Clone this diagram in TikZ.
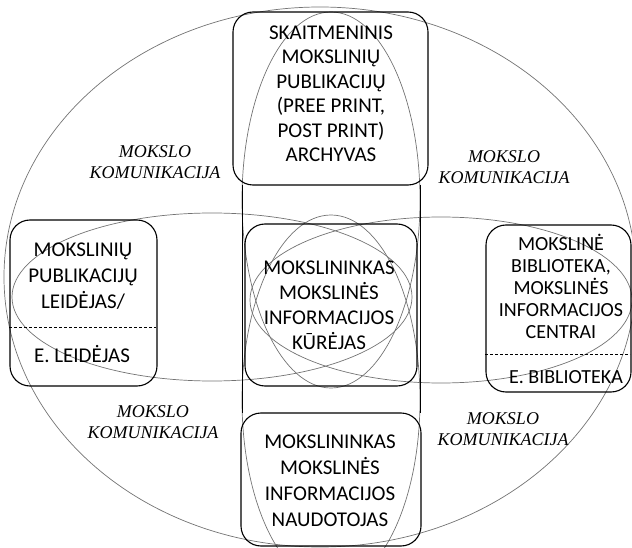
\documentclass[tikz,border=0pt]{standalone}
\usepackage{fontspec}
\setmainfont{Liberation Serif}
\setsansfont{Carlito}
\usepackage{tikz}

\begin{document}
\begin{tikzpicture}[x=1pt, y=-1pt,
  box/.style={draw,line width=1.1pt,rounded corners=20pt,inner sep=0pt},
  ring/.style={draw=black!55,line width=0.7pt},
  t/.style={align=center,inner sep=0pt,font=\sffamily\fontsize{21}{25}\selectfont},
  km/.style={align=center,inner sep=0pt,font=\itshape\fontsize{18}{21}\selectfont},
  dsh/.style={line width=0.8pt,dash pattern=on 3pt off 2pt}]
\path[use as bounding box] (0,0) rectangle (632,548);
\clip (0,0) rectangle (632,548);
% rings behind the boxes
\draw[ring] (320,277) ellipse [x radius=316pt, y radius=270pt];
\draw[ring] (212,297) ellipse [x radius=200pt, y radius=84pt];
\draw[ring] (441,300) ellipse [x radius=191pt, y radius=83pt];
\draw[ring] (331,200) ellipse [x radius=89pt, y radius=188pt];
\draw[ring] (331,400) ellipse [x radius=89pt, y radius=185pt];
\draw[line width=0.8pt] (242,185) -- (242,413) (420,185) -- (420,413);
% boxes
\node[box, minimum width=195pt, minimum height=173pt] (arch) at (330.5,98.5) {};
\node[box, minimum width=172pt, minimum height=162pt] (kur) at (331,305) {};
\node[box, minimum width=180pt, minimum height=133pt] (naud) at (331,479.5) {};
\node[box, minimum width=147pt, minimum height=166pt] (leid) at (83.5,303) {};
\node[box, minimum width=145pt, minimum height=167pt] (bibl) at (558.5,308.5) {};
\draw[dsh] (leid.west) ++(0,24) -- ++(147,0);
\draw[dsh] (bibl.west) ++(0,45.5) -- ++(145,0);
% texts
\node[t, font=\sffamily\fontsize{21}{24.5}\selectfont] (archT) at (331,94)
  {SKAITMENINIS\\MOKSLINIŲ\\PUBLIKACIJŲ\\(PREE PRINT,\\POST PRINT)\\ARCHYVAS};
\node[t] (kurT) at (329,305) {MOKSLININKAS\\MOKSLINĖS\\INFORMACIJOS\\KŪRĖJAS};
\node[t, font=\sffamily\fontsize{21}{26}\selectfont] (naudT) at (330,481)
  {MOKSLININKAS\\MOKSLINĖS\\INFORMACIJOS\\NAUDOTOJAS};
\node[t, font=\sffamily\fontsize{21}{26}\selectfont] (leidT) at (83,276)
  {MOKSLINIŲ\\PUBLIKACIJŲ\\LEIDĖJAS/};
\node[t] (eleid) at (82,354) {E. LEIDĖJAS};
\node[t, font=\sffamily\fontsize{20}{22}\selectfont] (biblT) at (561,286)
  {MOKSLINĖ\\BIBLIOTEKA,\\MOKSLINĖS\\INFORMACIJOS\\CENTRAI};
\node[t, font=\sffamily\fontsize{20}{22}\selectfont] (ebibl) at (566,377) {E. BIBLIOTEKA};
\node[km] (k1) at (155,162) {MOKSLO\\KOMUNIKACIJA};
\node[km] (k2) at (504,167) {MOKSLO\\KOMUNIKACIJA};
\node[km] (k3) at (153,422) {MOKSLO\\KOMUNIKACIJA};
\node[km] (k4) at (503,429) {MOKSLO\\KOMUNIKACIJA};
\end{tikzpicture}
\end{document}
